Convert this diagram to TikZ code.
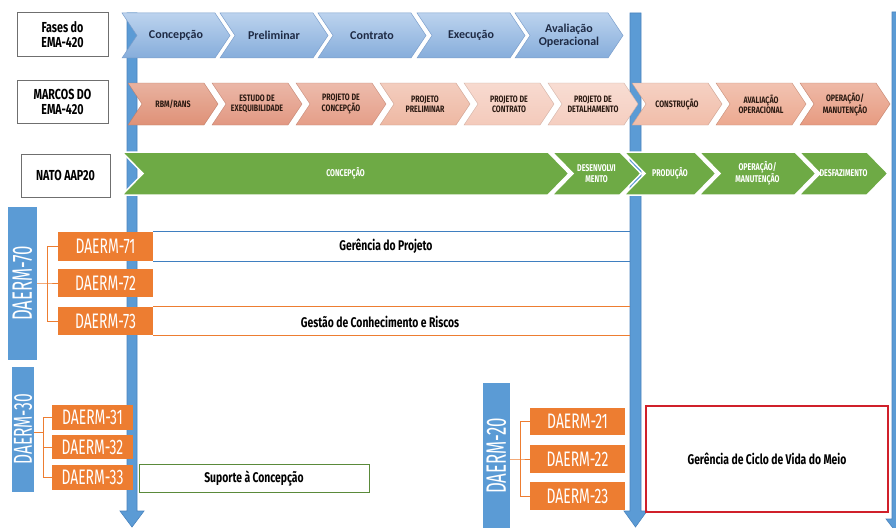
\documentclass[tikz,border=0pt]{standalone}
\usepackage{fontspec}
\setmainfont{Fira Sans}
\newfontfamily\hfont[FakeStretch=0.74]{Fira Sans}
\newfontfamily\dfont[FakeStretch=0.66]{Fira Sans}
\newfontfamily\vfont[FakeStretch=0.6]{Fira Sans}
\newfontfamily\sfont[FakeStretch=0.76]{Fira Sans}
\newfontfamily\gfont[FakeStretch=0.72]{Fira Sans}
\newfontfamily\cfont{Carlito}

\definecolor{barblue}{HTML}{5B9BD5}
\definecolor{baredge}{HTML}{4A84BE}
\definecolor{daorange}{HTML}{ED7D31}
\definecolor{headgray}{HTML}{6F6F6F}
\definecolor{navy}{HTML}{1E2A44}
\definecolor{fasetop}{HTML}{BCD3EE}
\definecolor{fasebot}{HTML}{86ADDB}
\definecolor{faseedge}{HTML}{7C9FCC}
\definecolor{nato}{HTML}{6EAA45}
\definecolor{bandblue}{HTML}{3F7FC0}
\definecolor{suporte}{HTML}{5A8A3A}
\definecolor{redbox}{HTML}{D0202A}
\definecolor{marcotext}{HTML}{2B1A12}
\definecolor{m1}{HTML}{DF9177}
\definecolor{m2}{HTML}{E29882}
\definecolor{m3}{HTML}{E59E88}
\definecolor{m4}{HTML}{EEB8A3}
\definecolor{m5}{HTML}{F4CABB}
\definecolor{m6}{HTML}{F5CEC0}
\definecolor{m7}{HTML}{F1BDA9}
\definecolor{m8}{HTML}{ECA990}
\definecolor{m9}{HTML}{E79B81}

% chevron: name, left x, right corner x, top y, bottom y, point depth, path style, caption
\newcommand\chev[8]{%
  \path[#7] (#2,#4) -- (#3,#4) -- ({#3+#6},{(#4+#5)/2}) -- (#3,#5) -- (#2,#5)
    -- ({#2+#6},{(#4+#5)/2}) -- cycle;
  \node[chevtext] (#1) at ({(#2+#3+#6)/2},{(#4+#5)/2}) {#8};
}
% salmon milestone chevron: name, left x, colour, caption
\newcommand\marco[4]{%
  \chev{#1}{#2}{#2+76}{83}{125}{14}{top color=#3!70!white, bottom color=#3, draw=#3!85!black, line width=0.4pt}{#4}
}

\begin{document}
\begin{tikzpicture}[x=1pt,y=-1pt,
  bar/.style={fill=barblue, draw=baredge, line width=0.6pt},
  head/.style={draw=headgray, line width=1pt, fill=white, align=center,
    font=\hfont\bfseries\fontsize{14.5}{15}\selectfont, inner sep=0pt},
  dbox/.style={fill=daorange, text=white, font=\dfont\fontsize{21}{21}\selectfont,
    inner sep=0pt},
  grp/.style={fill=barblue, text=white, font=\vfont\fontsize{28}{28}\selectfont,
    inner sep=0pt},
  brk/.style={draw=daorange, line width=0.8pt},
  lbl/.style={font=\hfont\bfseries\fontsize{14}{15}\selectfont, text=black},
  fases/.style={top color=fasetop, bottom color=fasebot, draw=faseedge, line width=0.5pt},
  natochev/.style={fill=nato, draw=white, line width=1.5pt}]

\useasboundingbox (0,0) rectangle (896,527);
\fill[white] (0,0) rectangle (896,527);
\clip (0,0) rectangle (896,527);

% time axes running down the sheet
\path[bar] (127,13) -- (137,13) -- (137,511) -- (144,511) -- (132,527) -- (120,511)
  -- (127,511) -- cycle;
\path[bar] (630,13) -- (641,13) -- (641,511) -- (647,511) -- (635.5,527) -- (624,511)
  -- (630,511) -- cycle;
\path[bar] (892,12) -- (903,12) -- (903,519) -- (909,519) -- (897.5,534) -- (886,519)
  -- (892,519) -- cycle;
\coordinate (mid) at (630,0);

% row headings
\node[head, minimum width=91pt, minimum height=44pt] (hfases) at (62.5,35) {Fases do\\EMA-420};
\node[head, minimum width=91pt, minimum height=43pt] (hmarcos) at (62.5,101.5) {MARCOS DO\\EMA-420};
\node[head, minimum width=89pt, minimum height=43pt] (hnato) at (65.5,175.5) {NATO AAP20};

% phases
\begin{scope}[chevtext/.style={text=navy, font=\cfont\bfseries\fontsize{12}{13.5}\selectfont,
    align=center, inner sep=0pt}]
  \chev{fconc}{122}{215}{13}{58}{15}{fases}{Concepção}
  \chev{fprel}{220}{313}{13}{58}{15}{fases}{Preliminar}
  \chev{fcont}{318}{411}{13}{58}{15}{fases}{Contrato}
  \chev{fexec}{417}{510}{13}{58}{15}{fases}{Execução}
  \chev{faval}{515}{608}{13}{58}{15}{fases}{Avaliação\\Operacional}
\end{scope}

% milestones
\begin{scope}[chevtext/.style={text=marcotext, font=\sfont\bfseries\fontsize{9.3}{10}\selectfont,
    align=center, inner sep=0pt}]
  \marco{mrbm}{128}{m1}{RBM/RANS}
  \marco{mest}{212}{m2}{ESTUDO DE\\EXEQUIBILIDADE}
  \marco{mpcon}{296}{m3}{PROJETO DE\\CONCEPÇÃO}
  \marco{mppre}{380}{m4}{PROJETO\\PRELIMINAR}
  \marco{mpctr}{464}{m5}{PROJETO DE\\CONTRATO}
  \marco{mpdet}{548}{m6}{PROJETO DE\\DETALHAMENTO}
  \marco{mcons}{632}{m7}{CONSTRUÇÃO}
  \marco{maval}{716}{m8}{AVALIAÇÃO\\OPERACIONAL}
  \marco{moper}{800}{m9}{OPERAÇÃO/\\MANUTENÇÃO}
\end{scope}

% NATO AAP-20 life-cycle stages
\begin{scope}[chevtext/.style={text=white, font=\gfont\bfseries\fontsize{9.8}{11.5}\selectfont,
    align=center, inner sep=0pt}]
  \chev{nconc}{122}{548}{152}{195}{21}{natochev}{CONCEPÇÃO}
  \chev{ndes}{552}{620}{152}{195}{21}{natochev}{DESENVOLVI\\MENTO}
  \chev{nprod}{624}{695}{152}{195}{21}{natochev}{PRODUÇÃO}
  \chev{noper}{699}{795}{152}{195}{21}{natochev}{OPERAÇÃO/\\MANUTENÇÃO}
  \chev{ndesf}{799}{867}{152}{195}{21}{natochev}{DESFAZIMENTO}
\end{scope}

% DAERM-70 group
\node[grp, minimum width=29pt, minimum height=153pt] (g70) at (22.5,283.5) {\rotatebox{90}{DAERM-70}};
\node[dbox, minimum width=95pt, minimum height=29pt] (d71) at (105.5,246.5) {DAERM-71};
\node[dbox, minimum width=95pt, minimum height=28pt] (d72) at (105.5,283) {DAERM-72};
\node[dbox, minimum width=95pt, minimum height=28pt] (d73) at (105.5,321) {DAERM-73};
\coordinate (k70) at (47,283);
\draw[brk] (g70.east |- k70) -- (k70) -- (d72.west);
\draw[brk] (d71.west) -- (d71.west -| k70) -- (d73.west -| k70) -- (d73.west);

% management bands
\draw[bandblue, line width=1.2pt] (d71.north east) -- (d71.north east -| mid);
\draw[bandblue, line width=1.2pt] (d71.south east) -- (d71.south east -| mid);
\node[lbl] (gp) at (386,246.5) {Gerência do Projeto};
\draw[daorange, line width=1.2pt] (d73.north east) -- (d73.north east -| mid);
\draw[daorange, line width=1.2pt] (d73.south east) -- (d73.south east -| mid);
\node[lbl] (gc) at (380,321.5) {Gestão de Conhecimento e Riscos};

% DAERM-30 group
\node[grp, font=\vfont\fontsize{26}{26}\selectfont, minimum width=22pt, minimum height=125pt]
  (g30) at (23,429.5) {\rotatebox{90}{DAERM-30}};
\node[dbox, minimum width=81pt, minimum height=25pt] (d31) at (92.5,417.5) {DAERM-31};
\node[dbox, minimum width=81pt, minimum height=24pt] (d32) at (92.5,447) {DAERM-32};
\node[dbox, minimum width=81pt, minimum height=25pt] (d33) at (92.5,477.5) {DAERM-33};
\coordinate (k30) at (43,432);
\draw[brk] (g30.east |- k30) -- (k30);
\draw[brk] (d31.west) -- (d31.west -| k30) -- (d33.west -| k30) -- (d33.west);
\draw[brk] (d32.west -| k30) -- (d32.west);
\node[lbl, draw=suporte, line width=1pt, minimum width=230pt, minimum height=28pt, inner sep=0pt]
  (sup) at (254,478) {Suporte à Concepção};

% DAERM-20 group
\node[grp, minimum width=27pt, minimum height=146pt] (g20) at (496.5,456) {\rotatebox{90}{DAERM-20}};
\node[dbox, minimum width=95pt, minimum height=27pt] (d21) at (577.5,421.5) {DAERM-21};
\node[dbox, minimum width=95pt, minimum height=28pt] (d22) at (577.5,459) {DAERM-22};
\node[dbox, minimum width=95pt, minimum height=28pt] (d23) at (577.5,496) {DAERM-23};
\coordinate (k20) at (520,459);
\draw[brk] (g20.east |- k20) -- (k20) -- (d22.west);
\draw[brk] (d21.west) -- (d21.west -| k20) -- (d23.west -| k20) -- (d23.west);

\node[lbl, draw=redbox, line width=1.4pt, minimum width=242pt, minimum height=106pt, inner sep=0pt]
  (cv) at (767,459) {Gerência de Ciclo de Vida do Meio};

\end{tikzpicture}
\end{document}
